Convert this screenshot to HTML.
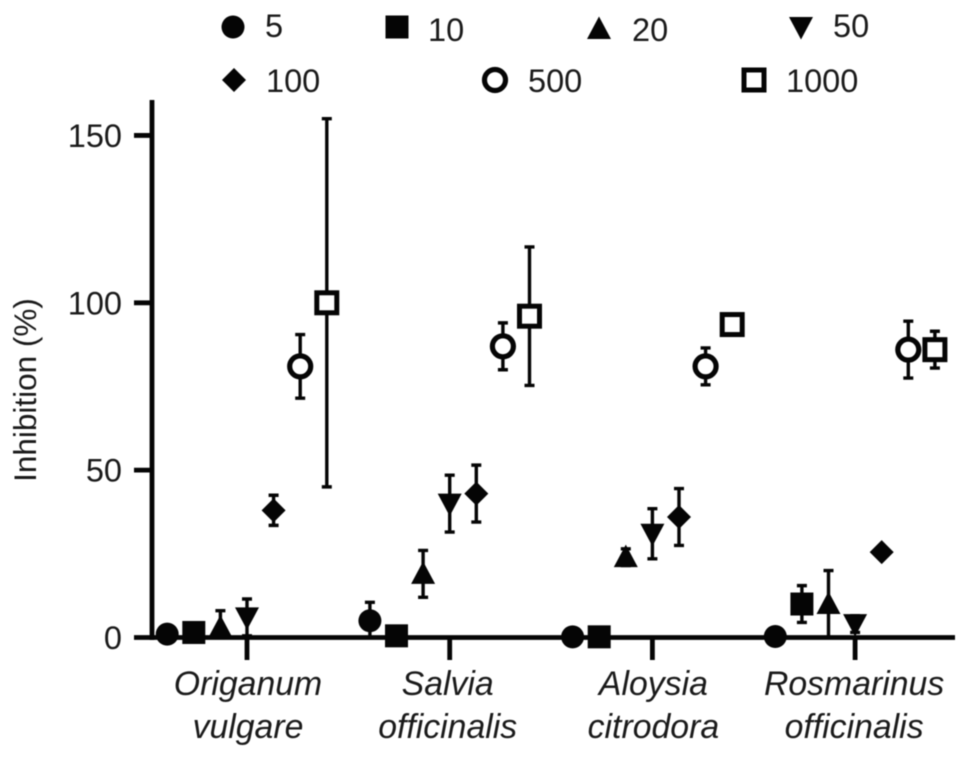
<!DOCTYPE html>
<html lang="en">
<head>
<meta charset="utf-8">
<title>Inhibition chart</title>
<style>
html,body{margin:0;padding:0;background:#fff;}
svg{display:block;filter:blur(0.5px);}
text{font-family:"Liberation Sans",Arial,sans-serif;fill:#1a1a1a;}
</style>
</head>
<body>
<svg id="chart" xmlns="http://www.w3.org/2000/svg" width="969" height="757" viewBox="0 0 969 757"></svg>
<script>
const categories = [["Origanum","vulgare"],["Salvia","officinalis"],["Aloysia","citrodora"],["Rosmarinus","officinalis"]];
const doses = ["5","10","20","50","100","500","1000"];
const yTicks = [0,50,100,150];
const values5 = [1,5,0.2,0.3];
const values10 = [1.5,0.5,0.2,10];
const values20 = [3,19,24,10];
const values50 = [6,40,31,4];
const values100 = [38,43,36,25.5];
const values500 = [81,87,81,86];
const values1000 = [100,96,93.5,86];
const errors5 = [0,5.5,0,0];
const errors10 = [0,0,0,5.5];
const errors20 = [5,7,2.5,10];
const errors50 = [5.5,8.5,7.5,2.5];
const errors100 = [4.5,8.5,8.5,0];
const errors500 = [9.5,7,5.5,8.5];
const errors1000 = [55,20.7,1.5,5.5];

const seriesValues = [values5,values10,values20,values50,values100,values500,values1000];
const seriesErrors = [errors5,errors10,errors20,errors50,errors100,errors500,errors1000];
const markerKinds = ["circle","square","up","down","diamond","open-circle","open-square"];

const svg = document.getElementById('chart');
const NS = 'http://www.w3.org/2000/svg';
const INK = '#050505';

function yScale(v){ return 637.5 - v * 3.347; }
function xGroup(i){ return 247 + i * 202.7; }
function xDose(i,j){ return xGroup(i) + (j - 3) * 26.6; }

function make(tag, attrs, parent){
  const el = document.createElementNS(NS, tag);
  for (const k in attrs) el.setAttribute(k, attrs[k]);
  (parent || svg).appendChild(el);
  return el;
}

function drawMarker(kind, x, y, parent){
  let el;
  if (kind === 'circle') el = make('circle',{cx:x,cy:y,r:11.5,fill:INK},parent);
  if (kind === 'square') el = make('rect',{x:x-11.5,y:y-11.5,width:23,height:23,fill:INK},parent);
  if (kind === 'up') el = make('polygon',{points:`${x-12},${y+10} ${x+12},${y+10} ${x},${y-12.5}`,fill:INK},parent);
  if (kind === 'down') el = make('polygon',{points:`${x-12},${y-10} ${x+12},${y-10} ${x},${y+12.5}`,fill:INK},parent);
  if (kind === 'diamond') el = make('polygon',{points:`${x-12},${y} ${x},${y-12} ${x+12},${y} ${x},${y+12}`,fill:INK},parent);
  if (kind === 'open-circle') el = make('circle',{cx:x,cy:y,r:10.5,fill:'#fff',stroke:INK,'stroke-width':5.2},parent);
  if (kind === 'open-square') el = make('rect',{x:x-10,y:y-10,width:20,height:20,fill:'#fff',stroke:INK,'stroke-width':5},parent);
  return el;
}

/* axes */
const axes = make('g',{});


const yAxis = make('line',{x1:152,y1:100,x2:152,y2:640,stroke:INK,'stroke-width':4.8},axes);


const xAxis = make('line',{x1:150,y1:637.5,x2:955,y2:637.5,stroke:INK,'stroke-width':4.8},axes);



yTicks.forEach(function(t){
  const tick = make('line',{x1:134,y1:yScale(t),x2:152,y2:yScale(t),stroke:INK,'stroke-width':4.8},axes);
  
  
  const label = make('text',{x:122,y:yScale(t)+11.5,'text-anchor':'end','font-size':32.5},axes);
  label.textContent = t;
  
  
});

categories.forEach(function(c,i){
  const tick = make('line',{x1:xGroup(i),y1:637,x2:xGroup(i),y2:660,stroke:INK,'stroke-width':4.8},axes);
  
  
  c.forEach(function(line,k){
    const label = make('text',{x:xGroup(i)+(i===3?-1:i===0?1:i===1?-2:1),y:695+k*43,'text-anchor':'middle','font-size':33.8,'font-style':'italic'},axes);
    label.textContent = line;
    
    
  });
});

const yTitle = make('text',{x:0,y:0,transform:'translate(36,390) rotate(-90)','text-anchor':'middle','font-size':31.5});
yTitle.textContent = 'Inhibition (%)';



/* series */
seriesValues.forEach(function(vals,j){
  const g = make('g',{});
  
  
  vals.forEach(function(v,i){
    const x = xDose(i,j), y = yScale(v), e = seriesErrors[j][i];
    if (e > 0){
      const top = yScale(v + e), bot = yScale(Math.max(0, v - e));
      const bar = make('path',{d:`M${x} ${top}V${bot}M${x-5} ${top}H${x+5}M${x-5} ${bot}H${x+5}`,stroke:INK,'stroke-width':3.4,fill:'none'},g);
      
      
    }
    const m = drawMarker(markerKinds[j],x,y,g);
    
    
  });
});

/* legend */
const legend = make('g',{});


function legendEntry(j, mx, my, tx, ty){
  const g = make('g',{},legend);
  
  
  drawMarker(markerKinds[j],mx,my,g);
  const t = make('text',{x:tx,y:ty,'font-size':32.5},g);
  t.textContent = doses[j];
}
legendEntry(0,233,27,265,37);
legendEntry(1,397,27,428,41);
legendEntry(2,599,29,632,41);
legendEntry(3,801,27,833,37);
legendEntry(4,234,80,266,92);
legendEntry(5,495,80,528,92);
legendEntry(6,754,80,786,92);
</script>
</body>
</html>
